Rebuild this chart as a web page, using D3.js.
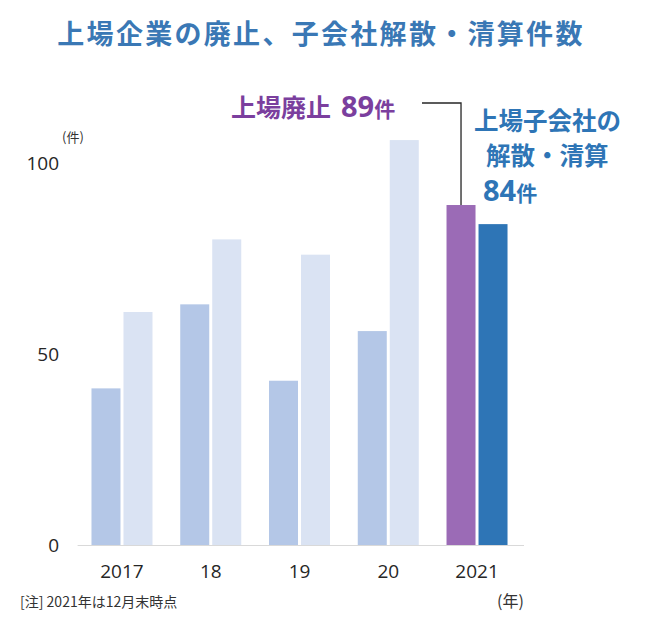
<!DOCTYPE html>
<html><head><meta charset="utf-8">
<script src="https://cdn.jsdelivr.net/npm/d3@7"></script>
<style>body{margin:0;background:#fff}svg{display:block}</style>
</head><body>
<script>
const years = ["2017","18","19","20","2021"];
const delisted = [41, 63, 43, 56, 89];        // 上場廃止
const dissolved = [61, 80, 76, 106, 84];      // 子会社解散・清算
const yTicks = [0, 50, 100];
const title = "上場企業の廃止、子会社解散・清算件数";

const W = 650, H = 619;
const jp = "'Noto Sans CJK JP', 'Noto Sans', sans-serif";
const num = "'Open Sans', 'Noto Sans', sans-serif";
const svg = d3.select("body").append("svg").attr("width", W).attr("height", H);

const x = d3.scaleBand().domain(years).range([77.6, 521.4]).padding(0);
const sub = d3.scaleBand().domain([0, 1]).range([-30.5, 30.5]).paddingInner(3/32);
const y = d3.scaleLinear().domain([0, 100]).range([545, 163]);

// title
svg.append("text").attr("x", 321).attr("y", 44).attr("text-anchor", "middle")
  .attr("font-family", jp).attr("font-weight", 700).attr("font-size", 27)
  .attr("letter-spacing", 2.3).attr("fill", "#3a78b5").text(title);

// bars
const colD = (i) => i === 4 ? "#9b6bb6" : "#b4c7e7";
const colS = (i) => i === 4 ? "#2e75b6" : "#dae3f3";
const g = svg.append("g");
years.forEach((yr, i) => {
  const cx = x(yr) + x.bandwidth() / 2;
  g.append("rect").attr("x", cx + sub(0)).attr("width", sub.bandwidth())
    .attr("y", y(delisted[i])).attr("height", y(0) - y(delisted[i])).attr("fill", colD(i));
  g.append("rect").attr("x", cx + sub(1)).attr("width", sub.bandwidth())
    .attr("y", y(dissolved[i])).attr("height", y(0) - y(dissolved[i])).attr("fill", colS(i));
});

// x axis
const xAxis = svg.append("g").attr("transform", `translate(0,${y(0)})`)
  .call(d3.axisBottom(x).tickSize(0).tickPadding(20));
xAxis.select(".domain").attr("stroke", "#d9d9d9").attr("d", "M77.6,0.5H524");
xAxis.selectAll("text").attr("font-family", num).attr("font-size", 19).attr("fill", "#262626");

// y axis
const yAxis = svg.append("g").attr("transform", "translate(59,0)")
  .call(d3.axisLeft(y).tickValues(yTicks).tickSize(0).tickPadding(0));
yAxis.select(".domain").remove();
yAxis.selectAll("text").attr("font-family", num).attr("font-size", 19).attr("fill", "#262626");

svg.append("text").attr("x", 62).attr("y", 142).attr("font-family", jp)
  .attr("font-size", 13).attr("fill", "#333").text("(件)");

// notes
svg.append("text").attr("x", 20).attr("y", 607).attr("font-family", jp)
  .attr("font-size", 14).attr("fill", "#333").text("[注] 2021年は12月末時点");
svg.append("text").attr("x", 497).attr("y", 607).attr("font-family", jp)
  .attr("font-size", 16).attr("fill", "#333").text("(年)");

// annotation: delisted
const cx21 = x("2021") + x.bandwidth() / 2;
const px = cx21 + sub(0) + sub.bandwidth() / 2;
svg.append("path").attr("fill", "none").attr("stroke", "#262626").attr("stroke-width", 1.3)
  .attr("d", `M422,103H${px}V${y(delisted[4])}`);
const t1 = svg.append("text").attr("x", 231).attr("y", 117).attr("font-family", jp)
  .attr("font-weight", 700).attr("fill", "#7b3f9e");
t1.append("tspan").attr("font-size", 25).text("上場廃止");
t1.append("tspan").attr("font-size", 29).attr("font-family", num).attr("dx", 10).text(delisted[4]);
t1.append("tspan").attr("font-size", 21).text("件");

// annotation: subsidiaries
const blue = "#2e75b6";
svg.append("text").attr("x", 474).attr("y", 130).attr("font-family", jp)
  .attr("font-weight", 700).attr("font-size", 24.5).attr("fill", blue).text("上場子会社の");
svg.append("text").attr("x", 486).attr("y", 165).attr("font-family", jp)
  .attr("font-weight", 700).attr("font-size", 24.5).attr("fill", blue).text("解散・清算");
const t2 = svg.append("text").attr("x", 483).attr("y", 201).attr("font-family", num)
  .attr("font-weight", 700).attr("fill", blue);
t2.append("tspan").attr("font-size", 29).text(dissolved[4]);
t2.append("tspan").attr("font-size", 21).attr("font-family", jp).text("件");
</script>
</body></html>
